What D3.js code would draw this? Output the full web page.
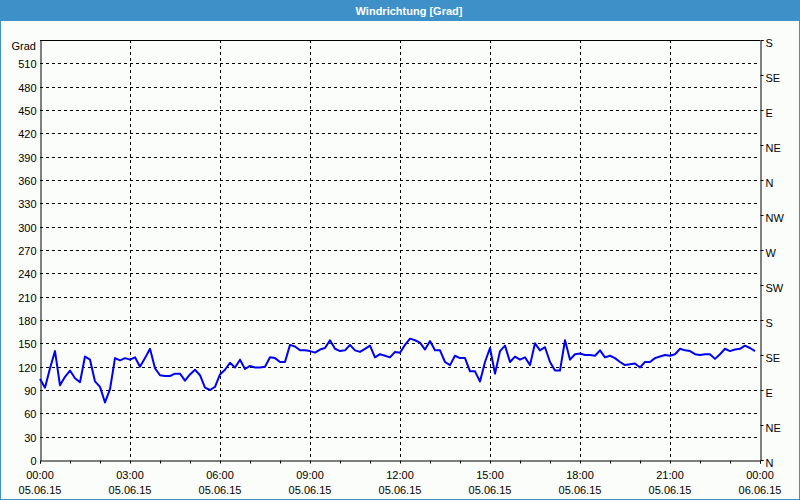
<!DOCTYPE html>
<html>
<head>
<meta charset="utf-8">
<script src="https://cdn.jsdelivr.net/npm/d3@7"></script>
<style>
  body { margin: 0; background: #fff; }
  svg { display: block; font-family: "Liberation Sans", Arial, sans-serif; }
</style>
</head>
<body>
<script>
  // wind direction, one value every 10 minutes on 05.06.15
  var startTime = new Date(2015, 5, 5, 0, 0);
  var stepMinutes = 10;
  var values = [
    104, 93, 118, 140, 96, 107, 115, 105, 100, 133, 129, 101, 94, 74, 91, 131, 128, 131, 129, 132, 120, 131, 143, 118, 109,
    108, 108, 111, 111, 102, 110, 116, 109, 93, 90, 94, 110, 116, 125, 119, 129, 117, 121, 119, 119, 120, 132, 131, 126,
    126, 148, 146, 141, 141, 140, 138, 142, 144, 154, 143, 140, 141, 148, 141, 139, 143, 147, 132, 136, 134, 132, 139, 138,
    148, 156, 154, 151, 142, 153, 141, 141, 126, 122, 134, 131, 131, 114, 114, 101, 126, 144, 111, 140, 147, 126, 133, 129,
    132, 122, 150, 141, 145, 126, 115, 115, 154, 129, 136, 137, 135, 135, 134, 141, 132, 134, 131, 126, 122, 123, 124, 119,
    126, 126, 131, 133, 135, 134, 136, 143, 141, 140, 136, 135, 136, 136, 130, 136, 143, 140, 142, 143, 147, 144, 140
  ];
  var leftTicks = [0, 30, 60, 90, 120, 150, 180, 210, 240, 270, 300, 330, 360, 390, 420, 450, 480, 510];
  var compassTicks = [0, 45, 90, 135, 180, 225, 270, 315, 360, 405, 450, 495, 540];
  var compassLabels = ["N", "NE", "E", "SE", "S", "SW", "W", "NW", "N", "NE", "E", "SE", "S"];
  var title = "Windrichtung [Grad]";
  var unitLabel = "Grad";

  var W = 800, H = 500;
  var margin = {top: 40, right: 40, bottom: 40, left: 40};
  var width = W - margin.left - margin.right;
  var height = H - margin.top - margin.bottom;

  var data = values.map(function(v, i) {
    return {date: d3.timeMinute.offset(startTime, i * stepMinutes), value: v};
  });

  var x = d3.scaleTime()
    .domain([startTime, d3.timeDay.offset(startTime, 1)])
    .range([0, width]);
  var y = d3.scaleLinear().domain([0, 540]).range([height, 0]);

  var svg = d3.select("body").append("svg")
    .attr("width", W)
    .attr("height", H);

  // background, frame and title bar
  svg.append("rect").attr("x", 0.5).attr("y", 0.5)
    .attr("width", W - 1).attr("height", H - 1)
    .attr("fill", "#fbfdfb").attr("stroke", "#3d90c8");
  svg.append("rect").attr("x", 0).attr("y", 0)
    .attr("width", W).attr("height", 21)
    .attr("fill", "#3d90c8");
  svg.append("text")
    .attr("x", 409).attr("y", 14.5)
    .attr("text-anchor", "middle")
    .attr("fill", "#fff")
    .attr("font-size", "11px")
    .attr("font-weight", "bold")
    .text(title);

  var g = svg.append("g")
    .attr("transform", "translate(" + margin.left + "," + margin.top + ")");

  // horizontal grid
  g.append("g")
    .selectAll("line")
    .data(leftTicks.filter(function(d) { return d > 0; }))
    .enter().append("line")
    .attr("x1", 0).attr("x2", width)
    .attr("y1", function(d) { return Math.round(y(d)) + 0.5; })
    .attr("y2", function(d) { return Math.round(y(d)) + 0.5; })
    .attr("stroke", "#000")
    .attr("stroke-dasharray", "3,3");

  // vertical grid every 3 hours
  var gridTimes = d3.timeHour.every(3).range(d3.timeHour.offset(startTime, 3), d3.timeDay.offset(startTime, 1));
  g.append("g")
    .selectAll("line")
    .data(gridTimes)
    .enter().append("line")
    .attr("x1", function(d) { return Math.round(x(d)) + 0.5; })
    .attr("x2", function(d) { return Math.round(x(d)) + 0.5; })
    .attr("y1", 0).attr("y2", height)
    .attr("stroke", "#000")
    .attr("stroke-dasharray", "3,3");

  // top border
  g.append("line")
    .attr("x1", 0).attr("x2", width)
    .attr("y1", 0.5).attr("y2", 0.5)
    .attr("stroke", "#000");

  // left axis
  var yAxis = g.append("g")
    .attr("transform", "translate(0.5,0)")
    .call(d3.axisLeft(y).tickValues(leftTicks).tickSize(0).tickPadding(4));
  yAxis.select(".domain").attr("stroke", "#000");
  yAxis.selectAll("text").attr("font-size", "11px").attr("fill", "#000")
    .attr("dy", "0.4em").attr("y", 0);
  svg.append("text")
    .attr("x", 36).attr("y", margin.top + 10)
    .attr("text-anchor", "end")
    .attr("font-size", "11px")
    .text(unitLabel);

  // right compass axis
  var rAxis = g.append("g")
    .attr("transform", "translate(" + (width + 0.5) + ",0)")
    .call(d3.axisRight(y).tickValues(compassTicks)
      .tickFormat(function(d, i) { return compassLabels[i]; })
      .tickSize(3).tickPadding(2));
  rAxis.select(".domain").attr("stroke", "#000");
  rAxis.selectAll("line").attr("stroke", "#000");
  rAxis.selectAll("text").attr("font-size", "11px").attr("fill", "#000")
    .attr("dy", "0.55em");

  // bottom axis
  var xAxis = g.append("g")
    .attr("transform", "translate(0," + (height + 0.5) + ")")
    .call(d3.axisBottom(x).ticks(d3.timeHour.every(1)).tickSize(3).tickFormat(""));
  xAxis.select(".domain").attr("stroke", "#000");
  xAxis.selectAll("line").attr("stroke", "#000");

  var labelTimes = d3.timeHour.every(3).range(startTime, d3.timeMinute.offset(d3.timeDay.offset(startTime, 1), 1));
  var fmtTime = d3.timeFormat("%H:%M");
  var fmtDate = d3.timeFormat("%d.%m.%y");
  var xl = g.append("g").selectAll("g")
    .data(labelTimes)
    .enter().append("g")
    .attr("transform", function(d) { return "translate(" + x(d) + "," + height + ")"; })
    .attr("text-anchor", "middle")
    .attr("font-size", "11px");
  xl.append("text").attr("y", 19).text(function(d) { return fmtTime(d); });
  xl.append("text").attr("y", 34).text(function(d) { return fmtDate(d); });

  // the line
  var valueline = d3.line()
    .x(function(d) { return x(d.date); })
    .y(function(d) { return y(d.value); });

  g.append("path")
    .datum(data)
    .attr("fill", "none")
    .attr("stroke", "#0000f0")
    .attr("stroke-width", 2)
    .attr("stroke-linejoin", "round")
    .attr("d", valueline);
</script>
</body>
</html>
